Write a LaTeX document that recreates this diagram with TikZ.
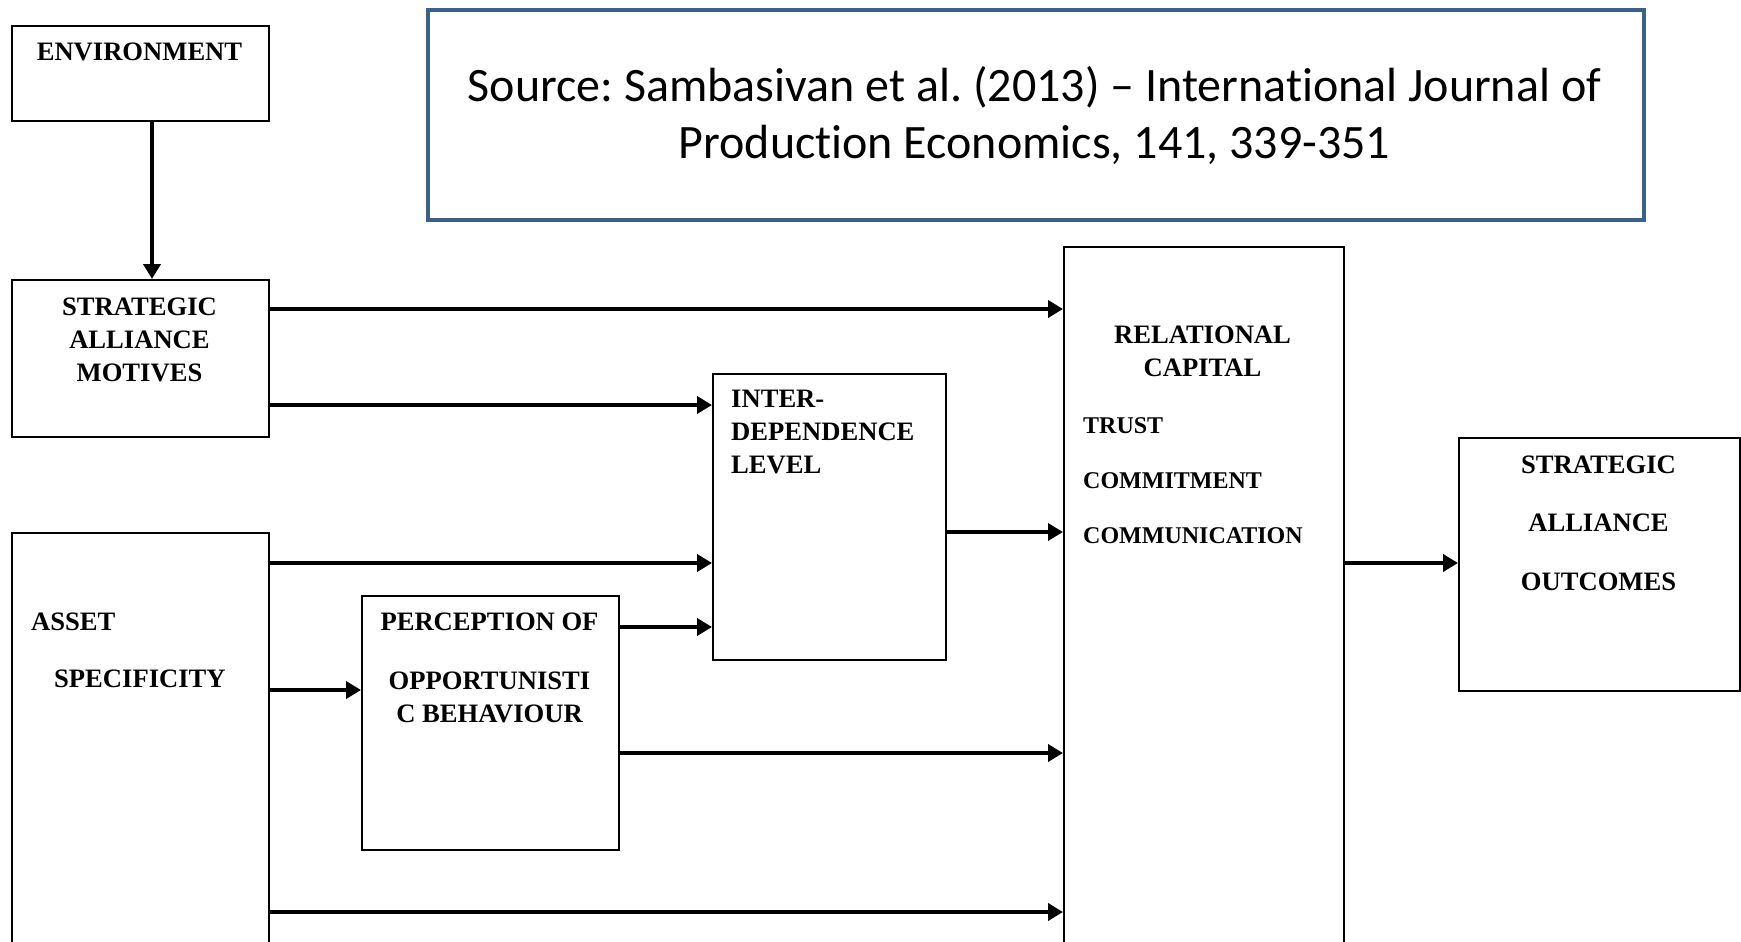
\documentclass[tikz,border=0pt]{standalone}
\usepackage{fontspec}
\setmainfont{Liberation Serif}
\newfontfamily\srcfont[Ligatures=NoCommon]{Carlito}
\usetikzlibrary{arrows.meta}
\definecolor{srcblue}{RGB}{60,95,140}
\begin{document}
\frenchspacing
\begin{tikzpicture}[x=1pt,y=-1pt,
  box/.style={draw, line width=2pt, inner sep=0pt, anchor=north west},
  arr/.style={line width=4pt, -{Triangle[length=15pt,width=17pt]}},
  lbl/.style={font=\fontsize{26.6}{33}\selectfont\bfseries, inner sep=0pt},
  itm/.style={font=\fontsize{24}{55}\selectfont\bfseries, inner sep=0pt},
]
\clip (0,0) rectangle (1741,942);
\fill[white] (0,0) rectangle (1741,942);
% boxes
\node[box, minimum width=257pt, minimum height=95pt] (env) at (11,25) {};
\node[box, draw=srcblue, line width=4pt, minimum width=1216pt, minimum height=210pt] (src) at (426,8) {};
\node[box, minimum width=257pt, minimum height=157pt] (sam) at (11,279) {};
\node[box, minimum width=257pt, minimum height=450pt] (as) at (11,532) {};
\node[box, minimum width=257pt, minimum height=254pt] (per) at (361,595) {};
\node[box, minimum width=233pt, minimum height=286pt] (id) at (712,373) {};
\node[box, minimum width=280pt, minimum height=730pt] (rc) at (1063,246) {};
\node[box, minimum width=281pt, minimum height=253pt] (sao) at (1458,437) {};
% labels (base anchor = baseline of the last line)
\node[lbl, anchor=base] (envt) at (139.5,60) {ENVIRONMENT};
\node[lbl, anchor=base, align=center] (samt) at (139.5,381) {STRATEGIC\\ALLIANCE\\MOTIVES};
\node[lbl, anchor=base west, align=left] (ast) at (31,687) {ASSET\\[24pt]\hspace*{23pt}SPECIFICITY};
\node[lbl, anchor=base, align=center] (pert) at (489.5,722) {PERCEPTION OF\\[26pt]OPPORTUNISTI\\C BEHAVIOUR};
\node[lbl, anchor=base west, align=left] (idt) at (731,473) {INTER-\\DEPENDENCE\\LEVEL};
\node[lbl, anchor=base, align=center] (rct) at (1202.5,376) {RELATIONAL\\CAPITAL};
\node[itm, anchor=base west, align=left] (rci) at (1083,543) {TRUST\\COMMITMENT\\COMMUNICATION};
\node[lbl, anchor=base, align=center] (saot) at (1598.5,590) {STRATEGIC\\[25.5pt]ALLIANCE\\[25.5pt]OUTCOMES};
\node[anchor=base, align=center, inner sep=0pt, font=\srcfont\fontsize{48}{57}\selectfont] (srct) at (1034.5,158) {Source: Sambasivan et al. (2013) – International Journal of\\Production Economics, 141, 339-351};
% connectors
\draw[arr] ([xshift=11.5pt]env.south) -- ([xshift=11.5pt]sam.north);
\draw[arr] (sam.east |- 0,309) -- (rc.west |- 0,309);
\draw[arr] (sam.east |- 0,405) -- (id.west |- 0,405);
\draw[arr] (as.east |- 0,563) -- (id.west |- 0,563);
\draw[arr] (per.east |- 0,627) -- (id.west |- 0,627);
\draw[arr] (as.east |- 0,690) -- (per.west |- 0,690);
\draw[arr] (id.east |- 0,532) -- (rc.west |- 0,532);
\draw[arr] (per.east |- 0,753) -- (rc.west |- 0,753);
\draw[arr] (as.east |- 0,912) -- (rc.west |- 0,912);
\draw[arr] (rc.east |- 0,563) -- (sao.west |- 0,563);
\end{tikzpicture}
\end{document}
